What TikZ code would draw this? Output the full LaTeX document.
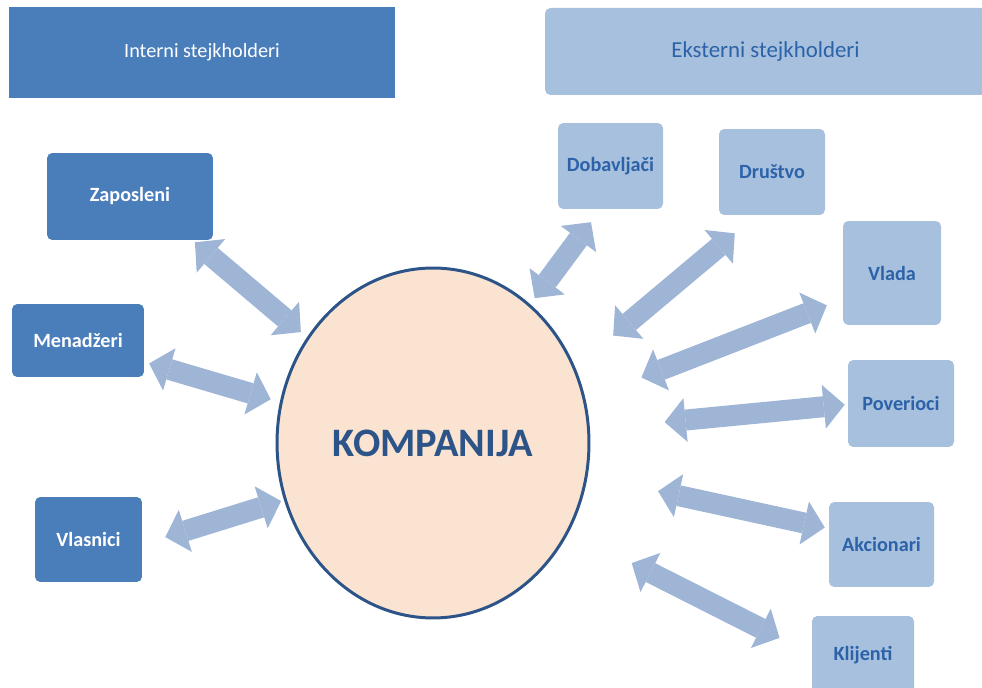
\documentclass[tikz,border=0pt]{standalone}
\usepackage{fontspec}
\setmainfont{Carlito}
\usetikzlibrary{shapes.geometric,arrows.meta}

\definecolor{tamnoplava}{RGB}{74,126,187}
\definecolor{svetloplava}{RGB}{167,192,222}
\definecolor{plavitekst}{RGB}{44,98,168}
\definecolor{strelica}{RGB}{158,181,214}
\definecolor{breskva}{RGB}{251,227,209}
\definecolor{okvir}{RGB}{44,84,136}

\tikzset{
  internibox/.style={fill=tamnoplava, text=white, inner sep=0pt, rounded corners=3pt,
    font=\fontsize{11.5}{14}\selectfont\bfseries},
  eksternibox/.style={fill=svetloplava, text=plavitekst, inner sep=0pt, rounded corners=3pt,
    font=\fontsize{11.5}{14}\selectfont\bfseries},
  veza/.style={draw=strelica, line width=0.42cm,
    {Triangle[length=0.42cm,width=0.88cm,line width=0pt]}-{Triangle[length=0.42cm,width=0.88cm,line width=0pt]}}
}

\begin{document}
\begin{tikzpicture}[x=0.02cm, y=-0.02cm]
          \path[use as bounding box, clip] (0,0) rectangle (982,688);
          \node[fill=tamnoplava, text=white, inner sep=0pt, minimum width=7.72cm, minimum height=1.82cm,
            font=\fontsize{11.5}{14}\selectfont] (interni) at (202,52.5) {Interni stejkholderi};
          \node[fill=svetloplava, text=plavitekst, inner sep=0pt, rounded corners=3pt, minimum width=8.82cm,
            minimum height=1.74cm, font=\fontsize{13}{15}\selectfont] (eksterni) at (765.5,51.5) {Eksterni stejkholderi};

          % interni
          \node[internibox, minimum width=3.32cm, minimum height=1.74cm] (zaposleni) at (130,196.5) {Zaposleni};
          \node[internibox, minimum width=2.64cm, minimum height=1.46cm] (menadzeri) at (78,340.5) {Menadžeri};
          \node[internibox, minimum width=2.14cm, minimum height=1.70cm] (vlasnici) at (88.5,539.5) {Vlasnici};

          % eksterni
          \node[eksternibox, minimum width=2.10cm, minimum height=1.72cm] (dobavljaci) at (610.5,166) {Dobavljači};
          \node[eksternibox, minimum width=2.12cm, minimum height=1.72cm] (drustvo) at (772,172) {Društvo};
          \node[eksternibox, minimum width=1.96cm, minimum height=2.08cm] (vlada) at (892,273) {Vlada};
          \node[eksternibox, minimum width=2.12cm, minimum height=1.74cm] (poverioci) at (901,403.5) {Poverioci};
          \node[eksternibox, minimum width=2.10cm, minimum height=1.70cm] (akcionari) at (881.5,544.5) {Akcionari};
          \node[eksternibox, minimum width=2.04cm, minimum height=1.56cm] (klijenti) at (863,655) {Klijenti};

          \node[ellipse, fill=breskva, draw=okvir, line width=1.7pt, inner sep=0pt, minimum width=6.24cm,
            minimum height=7cm, text=okvir, font=\fontsize{23}{27}\selectfont\bfseries] (kompanija) at (433,443) {KOMPANIJA};

          \draw[veza, shorten <=0.06cm, shorten >=0.16cm] (zaposleni.-35) -- (kompanija.140);
          \draw[veza, shorten <=0.1cm, shorten >=0.19cm] (menadzeri.-18) -- (kompanija.165);
          \draw[veza, shorten <=0.48cm, shorten >=0.06cm] (vlasnici.-5) -- (kompanija.201);
          \draw[veza, shorten <=0.32cm, shorten >=0.15cm] (dobavljaci.-103) -- (kompanija.55);
          \draw[veza, shorten <=0.56cm, shorten >=0.99cm] (drustvo.-110) -- (kompanija.28);
          \draw[veza, shorten <=0.34cm, shorten >=1.2cm] (vlada.208) -- (kompanija.16);
          \draw[veza, shorten <=0.06cm, shorten >=1.5cm] (poverioci.181) -- (kompanija.5);
          \draw[veza, shorten <=0.08cm, shorten >=1.44cm] (akcionari.163) -- (kompanija.-12);
          \draw[veza, shorten <=0.72cm, shorten >=1.4cm] (klijenti.179) -- (kompanija.-33); % strelice ne diraju elipsu
        \end{tikzpicture}
\end{document}
